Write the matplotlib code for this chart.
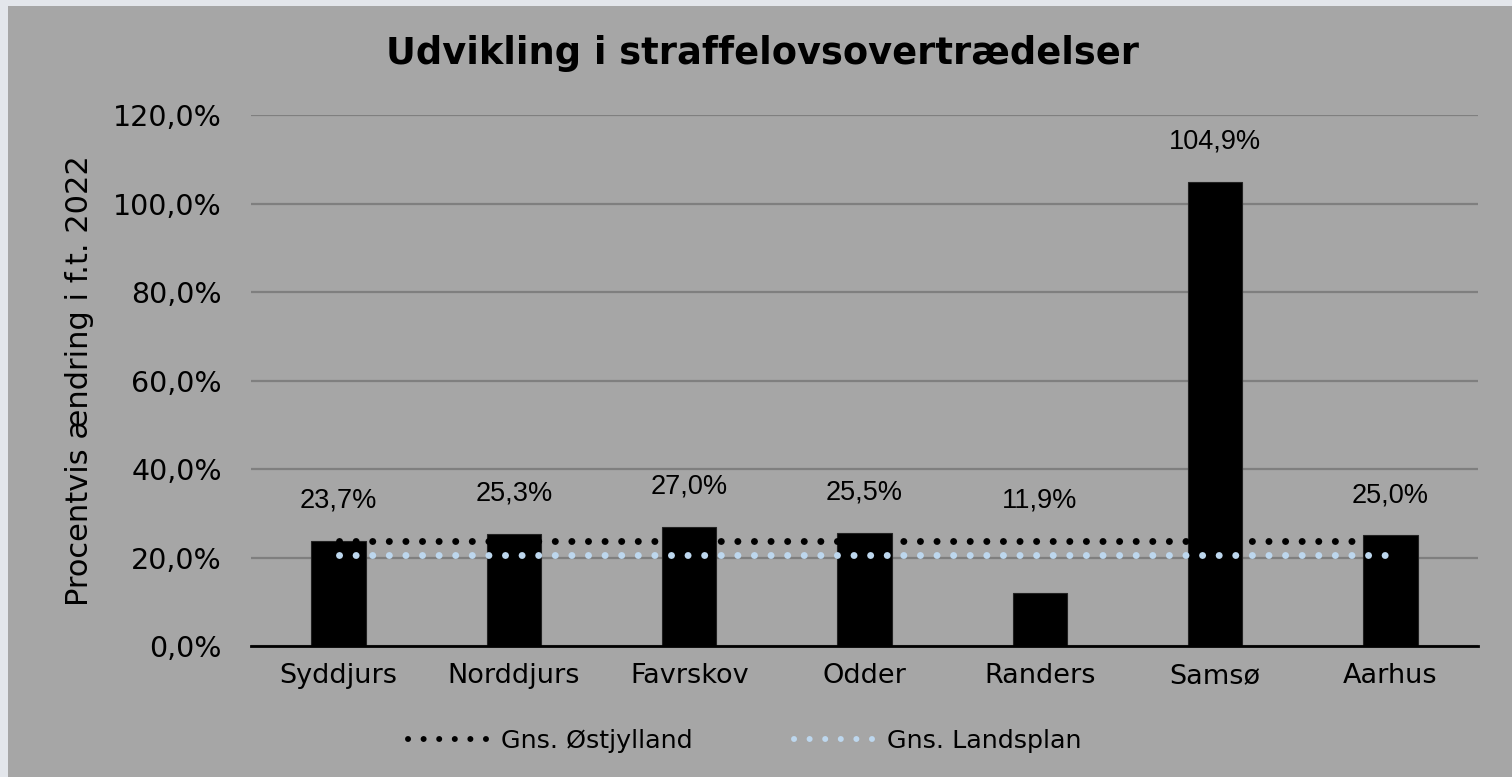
import matplotlib
matplotlib.use("Agg")
import matplotlib.pyplot as plt
from matplotlib.patches import Rectangle
from matplotlib.lines import Line2D
from matplotlib.ticker import FuncFormatter
import numpy as np

categories = ["Syddjurs", "Norddjurs", "Favrskov", "Odder", "Randers", "Samsø", "Aarhus"]
values = [23.7, 25.3, 27.0, 25.5, 11.9, 104.9, 25.0]
avg_ostjylland = 23.8
avg_landsplan = 20.5
title = "Udvikling i straffelovsovertrædelser"
ylabel = "Procentvis ændring i f.t. 2022"
legend_labels = ["Gns. Østjylland", "Gns. Landsplan"]

FONT = ["DejaVu Sans"]
LABEL_FONT = ["Liberation Sans", "DejaVu Sans"]
BG = "#a6a6a6"
LIGHTBLUE = "#bdd7ee"

fig = plt.figure(figsize=(15.12, 7.77), dpi=100, facecolor="#e3e6eb")
fig.patches.append(Rectangle((8/1512, 0), 1, 1 - 6/777, transform=fig.transFigure,
                             facecolor=BG, edgecolor="none", zorder=-10))

ax = fig.add_axes([251/1512, 1 - 646/777, (1478-251)/1512, (646-115)/777])
ax.set_zorder(5)
ax.patch.set_alpha(0)

x = np.arange(len(categories))
ax.bar(x, values, width=0.31, color="black", edgecolor="#222222", linewidth=0.8, zorder=3)

ax.plot([x[0], x[-1]], [avg_ostjylland]*2, color="black", lw=5,
        dashes=(0.01, 2.38), dash_capstyle="round", zorder=4)
ax.plot([x[0], x[-1]], [avg_landsplan]*2, color=LIGHTBLUE, lw=5,
        dashes=(0.01, 2.38), dash_capstyle="round", zorder=4)

for xi, v in zip(x, values):
    anchor = max(v, avg_ostjylland)
    ax.annotate(f"{v:.1f}%".replace(".", ","), (xi, anchor), xytext=(0, 29),
                textcoords="offset points", ha="center", va="center",
                fontsize=19.5, family=LABEL_FONT, color="black", zorder=5)

ax.set_xlim(-0.5, len(categories) - 0.5)
ax.set_ylim(0, 120)
ax.set_yticks(np.arange(0, 121, 20))
ax.yaxis.set_major_formatter(FuncFormatter(lambda v, p: f"{v:.1f}%".replace(".", ",")))
ax.grid(axis="y", color="#7f7f7f", lw=1.6, zorder=1)
ax.set_axisbelow(True)
for s in ["top", "right", "left"]:
    ax.spines[s].set_visible(False)
ax.spines["bottom"].set_color("black")
ax.spines["bottom"].set_linewidth(2)
ax.spines["bottom"].set_zorder(6)
ax.tick_params(axis="both", length=0)
ax.tick_params(axis="y", pad=21, labelsize=20.5)
ax.tick_params(axis="x", pad=12, labelsize=19.5)
ax.set_xticks(x)
ax.set_xticklabels(categories)
for lab in ax.get_xticklabels() + ax.get_yticklabels():
    lab.set_family(FONT)

ax.set_ylabel(ylabel, fontsize=22, family=FONT, labelpad=14)

fig.text(762/1512, 1 - 54/777, title, ha="center", va="center",
         fontsize=26.5, fontweight="bold", family=FONT)

handles = [
    Line2D([], [], color="black", lw=4.3, dashes=(0.01, 2.6), dash_capstyle="round"),
    Line2D([], [], color=LIGHTBLUE, lw=4.3, dashes=(0.01, 2.6), dash_capstyle="round"),
]
leg = fig.legend(handles, legend_labels, loc="center", bbox_to_anchor=(745/1512, 1 - 741/777),
                 ncol=2, frameon=False, handlelength=3.15, handletextpad=0.5, columnspacing=4.0,
                 prop={"family": FONT, "size": 18.3})

fig.savefig("out.png", dpi=100, facecolor=fig.get_facecolor())
